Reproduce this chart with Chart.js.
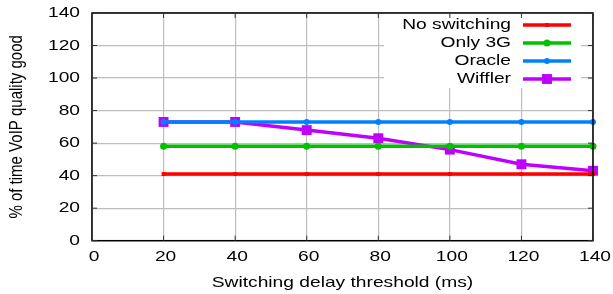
<html lang="en">

<head>
    <meta charset="UTF-8">
    <title>VoIP quality vs switching delay</title>
    <script src="https://cdn.jsdelivr.net/npm/chart.js@4/dist/chart.umd.min.js"></script>
    <style>
        body { margin: 0; background: #fff; }
    </style>
</head>

<body>
    <canvas id="myChart" width="613" height="294"></canvas>
</body>

</html>

<script>
    // Datos
    var thresholds = [20, 40, 60, 80, 100, 120, 140];
    var noSwitching = [41, 41, 41, 41, 41, 41, 41];
    var only3G = [58, 58, 58, 58, 58, 58, 58];
    var oracle = [73, 73, 73, 73, 73, 73, 73];
    var wiffler = [73, 73, 68, 63, 56, 47, 43];

    var seriesNames = ['No switching', 'Only 3G', 'Oracle', 'Wiffler'];
    var xTicks = [0, 20, 40, 60, 80, 100, 120, 140];
    var yTicks = [0, 20, 40, 60, 80, 100, 120, 140];
    var xTitle = 'Switching delay threshold (ms)';
    var yTitle = '% of time VoIP quality good';

    var FONT = '15px "Liberation Sans", Arial, sans-serif';
    var STRETCH = 1.28; // el texto original sale ensanchado

    function toPoints(values) {
        return values.map((v, i) => ({ x: thresholds[i], y: v }));
    }

    function serie(label, values, color, style, radius) {
        return {
            label: label,
            data: toPoints(values),
            showLine: true,
            borderColor: color,
            backgroundColor: color,
            borderWidth: 3.5,
            pointStyle: style,
            pointRadius: radius,
            pointHoverRadius: radius,
            pointBorderWidth: 0,
            clip: false
        };
    }

    function drawText(ctx, str, x, y, align, rot) {
        ctx.save();
        ctx.translate(x, y);
        ctx.scale(STRETCH, 1);
        if (rot) ctx.rotate(rot);
        ctx.font = FONT;
        ctx.fillStyle = '#000';
        ctx.textAlign = align;
        ctx.textBaseline = 'middle';
        ctx.fillText(str, 0, 0);
        ctx.restore();
    }

    // Caja de leyenda (estilo gnuplot, texto a la izquierda)
    var legendBox = {
        id: 'legendBox',
        beforeDatasetsDraw(chart) {
            var ctx = chart.ctx, a = chart.chartArea;
            ctx.save();
            ctx.fillStyle = '#fff';
            ctx.fillRect(384, a.top, 197, 75);
            ctx.restore();
        },
        afterDatasetsDraw(chart) {
            var ctx = chart.ctx, a = chart.chartArea;
            var xs = chart.scales.x, ys = chart.scales.y;

            // Marco y ticks hacia adentro
            ctx.save();
            ctx.strokeStyle = '#000';
            ctx.lineWidth = 1.5;
            ctx.strokeRect(a.left, a.top, a.right - a.left, a.bottom - a.top);
            ctx.strokeStyle = '#333';
            ctx.lineWidth = 1;
            ctx.beginPath();
            xTicks.forEach(t => {
                var px = xs.getPixelForValue(t);
                ctx.moveTo(px, a.bottom); ctx.lineTo(px, a.bottom - 5);
                ctx.moveTo(px, a.top); ctx.lineTo(px, a.top + 5);
            });
            yTicks.forEach(t => {
                var py = ys.getPixelForValue(t);
                ctx.moveTo(a.left, py); ctx.lineTo(a.left + 5, py);
                ctx.moveTo(a.right, py); ctx.lineTo(a.right - 5, py);
            });
            ctx.stroke();
            ctx.restore();

            // Etiquetas de ejes
            xTicks.forEach(t => drawText(ctx, String(t), xs.getPixelForValue(t) + 2, 257, 'center'));
            yTicks.forEach(t => drawText(ctx, String(t), 80, ys.getPixelForValue(t), 'right'));
            drawText(ctx, xTitle, (a.left + a.right) / 2, 283, 'center');
            drawText(ctx, yTitle, 17, (a.top + a.bottom) / 2, 'center', -Math.PI / 2);

            // Leyenda
            chart.data.datasets.forEach((ds, i) => {
                var y = 25 + i * 18;
                drawText(ctx, ds.label, 511, y, 'right');
                ctx.save();
                ctx.strokeStyle = ds.borderColor;
                ctx.lineWidth = ds.borderWidth;
                ctx.beginPath();
                ctx.moveTo(523, y); ctx.lineTo(571, y);
                ctx.stroke();
                ctx.fillStyle = ds.backgroundColor;
                Chart.helpers.drawPoint(ctx, { pointStyle: ds.pointStyle, radius: ds.pointRadius, borderWidth: 0, rotation: 0 }, 547, y);
                ctx.restore();
            });
        }
    };

    var ctx = document.getElementById('myChart').getContext('2d');
    var myChart = new Chart(ctx, {
        type: 'scatter',
        data: {
            datasets: [
                serie(seriesNames[0], noSwitching, '#ff0000', 'rect', 2.8),
                serie(seriesNames[1], only3G, '#00c000', 'circle', 3.5),
                serie(seriesNames[2], oracle, '#0080ff', 'circle', 3),
                serie(seriesNames[3], wiffler, '#c000ff', 'rect', 7)
            ]
        },
        options: {
            responsive: false,
            devicePixelRatio: 1,
            animation: false,
            layout: { padding: { top: 13, right: 20, left: 0, bottom: 0 } },
            plugins: { legend: { display: false }, tooltip: { enabled: false } },
            scales: {
                x: {
                    type: 'linear', min: 0, max: 140,
                    ticks: { display: false, stepSize: 20 },
                    grid: { color: '#bdbdbd', lineWidth: 1.2, drawTicks: false },
                    border: { display: false },
                    afterFit: s => { s.height = 53.3; }
                },
                y: {
                    min: 0, max: 140,
                    ticks: { display: false, stepSize: 20 },
                    grid: { color: '#bdbdbd', lineWidth: 1.2, drawTicks: false },
                    border: { display: false },
                    afterFit: s => { s.width = 92; }
                }
            }
        },
        plugins: [legendBox]
    });
</script>
